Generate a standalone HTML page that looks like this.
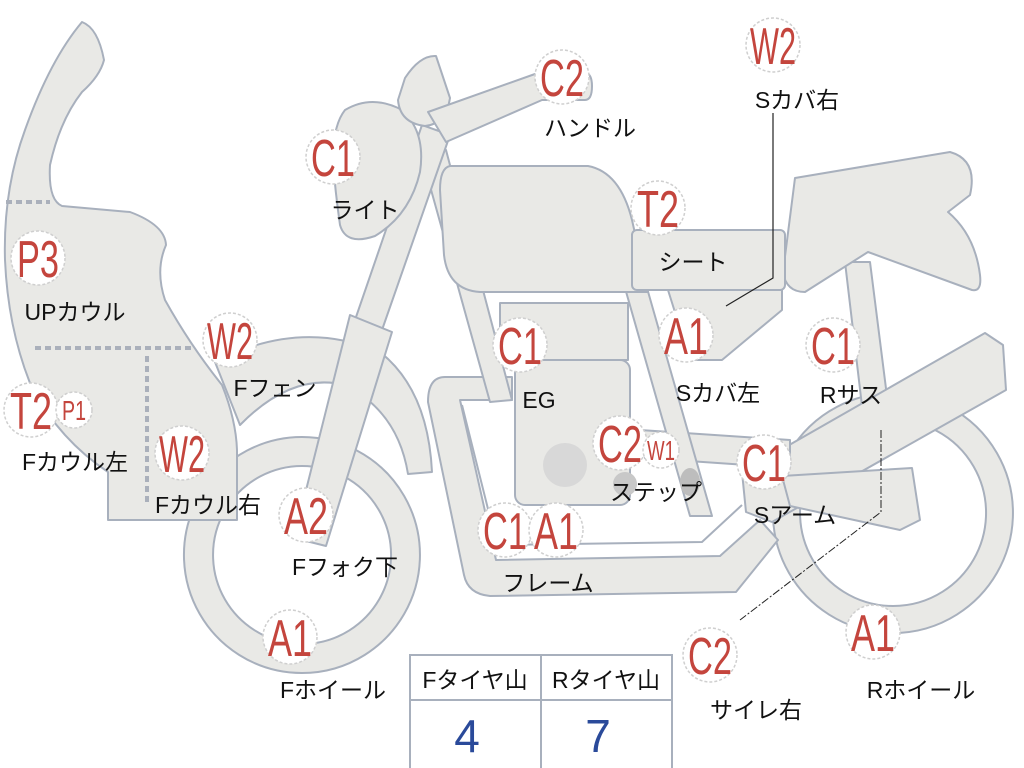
<!DOCTYPE html>
<html><head><meta charset="utf-8"><style>
html,body{margin:0;padding:0;background:#fff;}
svg{display:block;}
.s{fill:#e9e9e6;stroke:#a8b0bd;stroke-width:2;stroke-linejoin:round;}
.b circle{fill:#fff;stroke:#cfcfcf;stroke-width:1.5;stroke-dasharray:3 2;}
.r{fill:#c4453d;font-family:"Liberation Sans",sans-serif;font-size:52px;}
.l{fill:#111;font-family:"Liberation Sans","Noto Sans CJK JP",sans-serif;font-size:23px;}
</style></head><body>
<svg width="1024" height="768" viewBox="0 0 1024 768" xmlns="http://www.w3.org/2000/svg">
<path class="s" fill-rule="evenodd" d="M893,393 a120,120 0 1,1 -0.1,0 Z M893,420 a93,93 0 1,0 0.1,0 Z"/>
<polygon class="s" points="845,262 870,262 892,436 866,440"/>
<path class="s" d="M795,178 L950,152 Q978,160 970,195 L948,212 Q975,235 980,275 Q982,292 972,290 L868,252 L805,292 Q786,292 783,272 Z"/>
<polygon class="s" points="742,472 985,333 1003,345 1006,390 772,522 746,512"/>
<polygon class="s" points="782,476 912,468 920,520 900,530 790,506"/>
<path class="s" fill-rule="evenodd" d="M302,437 a118,118 0 1,1 -0.1,0 Z M302,466 a89,89 0 1,0 0.1,0 Z"/>
<path class="s" d="M215,362 Q300,318 380,352 Q428,390 432,472 L408,474 Q398,412 345,385 Q292,372 240,425 Z"/>
<path class="s" d="M445,377 L512,377 L512,400 L460,400 L496,560 L720,556 L760,520 L778,540 L736,592 L490,596 Q468,594 464,575 L428,402 Q428,377 445,377 Z"/>
<path fill="none" stroke="#a8b0bd" stroke-width="2" d="M462,405 L497,545 L702,542 L742,505"/>
<polygon class="s" points="640,430 790,440 790,468 645,458"/>
<rect class="s" x="500" y="303" width="128" height="57"/>
<rect class="s" x="515" y="360" width="115" height="145" rx="10"/>
<circle cx="565" cy="465" r="22" fill="#d8d8d8"/>
<polygon class="s" points="420,150 446,150 512,400 490,402"/>
<polygon class="s" points="625,288 647,288 712,516 690,516"/>
<polygon class="s" points="668,290 782,290 782,310 722,360 690,360"/>
<ellipse cx="690" cy="482" rx="10" ry="14" fill="#bdbdbd"/>
<ellipse cx="625" cy="484" rx="12" ry="12" fill="#c8c8c8"/>
<path class="s" d="M450,166 L588,166 Q620,172 632,220 L648,292 L480,292 Q448,290 444,255 L440,190 Q440,168 450,166 Z"/>
<rect class="s" x="632" y="230" width="153" height="60" rx="5"/>
<polygon class="s" points="422,125 450,135 382,330 355,320"/>
<polygon class="s" points="350,315 392,332 326,546 294,538"/>
<path class="s" d="M345,110 Q372,94 402,110 Q426,132 420,172 Q410,215 375,236 Q346,246 340,225 Q335,190 333,160 Q333,125 345,110 Z"/>
<path class="s" d="M405,78 Q420,55 436,56 L450,98 Q446,124 425,126 Q400,123 398,100 Z"/>
<path class="s" d="M428,112 L535,74 L585,72 Q592,74 592,86 Q592,100 585,100 L542,100 L446,142 Z"/>
<path class="s" d="M82,22 Q98,28 104,60 Q100,76 82,92 Q60,120 50,165 Q48,200 62,206 L130,212 Q165,225 166,245 Q155,270 165,300 Q190,345 222,385 Q236,420 237,450 L237,520 L108,520 L108,472 Q60,440 32,388 Q8,330 5,260 Q3,190 25,130 Q50,60 82,22 Z"/>
<g stroke="#aab0bb" stroke-width="4" stroke-dasharray="6 4" fill="none">
<line x1="6" y1="202" x2="50" y2="202"/>
<line x1="35" y1="348" x2="192" y2="348"/>
<line x1="147" y1="356" x2="147" y2="505"/>
</g>
<polyline points="773,113 773,278 726,306" fill="none" stroke="#222" stroke-width="1.2"/>
<polyline points="881,430 881,512 740,620" fill="none" stroke="#222" stroke-width="1" stroke-dasharray="8 2 2 2"/>
<g fill="#fff" stroke="#a8b0bd" stroke-width="2">
<rect x="410" y="655" width="262" height="115"/>
<line x1="410" y1="700" x2="672" y2="700"/>
<line x1="541" y1="655" x2="541" y2="768"/>
</g>
<text class="l" x="475" y="688" text-anchor="middle">Fタイヤ山</text>
<text class="l" x="606" y="688" text-anchor="middle">Rタイヤ山</text>
<text x="467" y="752" text-anchor="middle" font-family="Liberation Sans" font-size="46" fill="#2a4a9a">4</text>
<text x="598" y="752" text-anchor="middle" font-family="Liberation Sans" font-size="46" fill="#2a4a9a">7</text>
<g class="b">
<circle cx="562" cy="77" r="27"/><circle cx="333" cy="157" r="27"/><circle cx="773" cy="45" r="27"/>
<circle cx="658" cy="208" r="27"/><circle cx="38" cy="258" r="27"/><circle cx="230" cy="340" r="27"/>
<circle cx="520" cy="345" r="27"/><circle cx="686" cy="335" r="27"/><circle cx="833" cy="345" r="27"/>
<circle cx="31" cy="410" r="27"/><circle cx="74" cy="410" r="18"/><circle cx="182" cy="453" r="27"/>
<circle cx="620" cy="443" r="27"/><circle cx="661" cy="450" r="18"/><circle cx="764" cy="462" r="27"/>
<circle cx="306" cy="515" r="27"/><circle cx="505" cy="530" r="27"/><circle cx="556" cy="530" r="27"/>
<circle cx="290" cy="637" r="27"/><circle cx="710" cy="655" r="27"/><circle cx="873" cy="632" r="27"/>
</g>
<g class="r" text-anchor="middle">
<text x="562" y="96" textLength="44" lengthAdjust="spacingAndGlyphs">C2</text>
<text x="333" y="176" textLength="44" lengthAdjust="spacingAndGlyphs">C1</text>
<text x="773" y="64" textLength="46" lengthAdjust="spacingAndGlyphs">W2</text>
<text x="658" y="227" textLength="42" lengthAdjust="spacingAndGlyphs">T2</text>
<text x="38" y="277" textLength="42" lengthAdjust="spacingAndGlyphs">P3</text>
<text x="230" y="359" textLength="46" lengthAdjust="spacingAndGlyphs">W2</text>
<text x="520" y="364" textLength="44" lengthAdjust="spacingAndGlyphs">C1</text>
<text x="686" y="354" textLength="44" lengthAdjust="spacingAndGlyphs">A1</text>
<text x="833" y="364" textLength="44" lengthAdjust="spacingAndGlyphs">C1</text>
<text x="31" y="429" textLength="42" lengthAdjust="spacingAndGlyphs">T2</text>
<text x="74" y="420" font-size="28" textLength="24" lengthAdjust="spacingAndGlyphs">P1</text>
<text x="182" y="472" textLength="46" lengthAdjust="spacingAndGlyphs">W2</text>
<text x="620" y="462" textLength="44" lengthAdjust="spacingAndGlyphs">C2</text>
<text x="661" y="460" font-size="28" textLength="28" lengthAdjust="spacingAndGlyphs">W1</text>
<text x="764" y="481" textLength="44" lengthAdjust="spacingAndGlyphs">C1</text>
<text x="306" y="534" textLength="44" lengthAdjust="spacingAndGlyphs">A2</text>
<text x="505" y="549" textLength="44" lengthAdjust="spacingAndGlyphs">C1</text>
<text x="556" y="549" textLength="44" lengthAdjust="spacingAndGlyphs">A1</text>
<text x="290" y="656" textLength="44" lengthAdjust="spacingAndGlyphs">A1</text>
<text x="710" y="674" textLength="44" lengthAdjust="spacingAndGlyphs">C2</text>
<text x="873" y="651" textLength="44" lengthAdjust="spacingAndGlyphs">A1</text>
</g>
<g class="l" text-anchor="middle">
<text x="590" y="136">ハンドル</text>
<text x="365" y="218">ライト</text>
<text x="797" y="108">Sカバ右</text>
<text x="693" y="270">シート</text>
<text x="75" y="320">UPカウル</text>
<text x="275" y="396">Fフェン</text>
<text x="539" y="408">EG</text>
<text x="718" y="401">Sカバ左</text>
<text x="851" y="403">Rサス</text>
<text x="75" y="470">Fカウル左</text>
<text x="208" y="513">Fカウル右</text>
<text x="656" y="500">ステップ</text>
<text x="795" y="523">Sアーム</text>
<text x="345" y="575">Fフォク下</text>
<text x="548" y="591">フレーム</text>
<text x="333" y="698">Fホイール</text>
<text x="756" y="718">サイレ右</text>
<text x="921" y="698">Rホイール</text>
</g>
</svg>
</body></html>
